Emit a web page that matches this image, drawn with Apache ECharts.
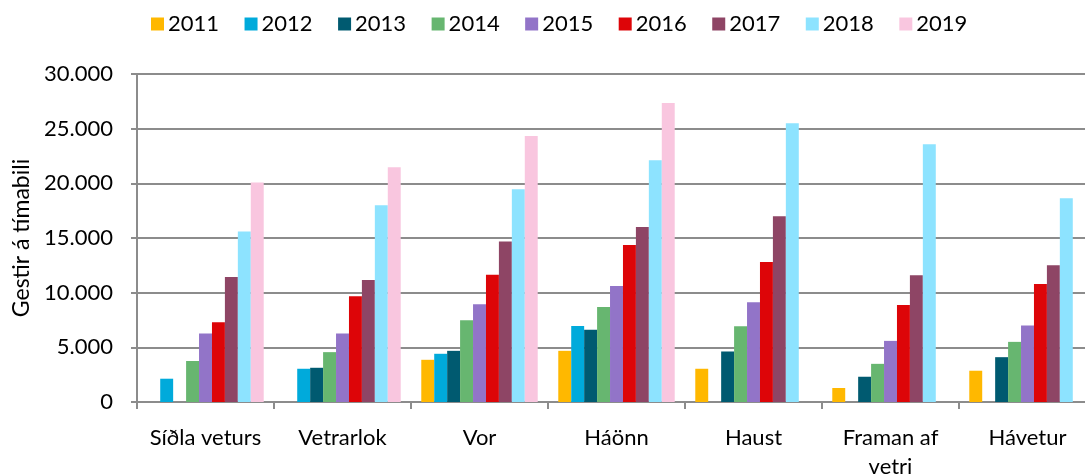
<!DOCTYPE html>
<html>
	<head>
		<meta charset="utf-8">
		<title></title>
		<script src="https://cdn.jsdelivr.net/npm/echarts@6/dist/echarts.min.js"></script>
		<style>
			html, body { margin: 0; padding: 0; background: #fff; }
		</style>
	</head>
	<body>
		<div id="main" style="width: 1085px; height: 474px;"></div>
		<script type="text/javascript">
			// flokkar (tímabil)
			var categories = ['Síðla veturs', 'Vetrarlok', 'Vor', 'Háönn', 'Haust', 'Framan af vetri', 'Hávetur']
			var years = ['2011', '2012', '2013', '2014', '2015', '2016', '2017', '2018', '2019']
			var colors = ['#FFB800', '#00AADB', '#005A70', '#67B670', '#9274C8', '#DD0508', '#8E4565', '#8DE3FF', '#F9C6DF']

			// gestir á tímabili, eitt fylki á ár
			var v2011 = [null, null, 3860, 4680, 3040, 1280, 2860]
			var v2012 = [2130, 3040, 4410, 6960, null, null, null]
			var v2013 = [null, 3130, 4680, 6600, 4620, 2310, 4100]
			var v2014 = [3750, 4560, 7480, 8700, 6930, 3490, 5500]
			var v2015 = [6260, 6260, 8940, 10610, 9120, 5590, 6990]
			var v2016 = [7300, 9670, 11640, 14350, 12800, 8880, 10800]
			var v2017 = [11430, 11160, 14690, 16000, 17000, 11590, 12500]
			var v2018 = [15600, 18000, 19460, 22100, 25500, 23570, 18640]
			var v2019 = [20070, 21470, 24330, 27340, null, null, null]
			var values = [v2011, v2012, v2013, v2014, v2015, v2016, v2017, v2018, v2019]

			var yTicks = [0, 5000, 10000, 15000, 20000, 25000, 30000]

			var font = 'Lato'

			var series = years.map(function (y, i) {
				return {
					name: y,
					type: 'bar',
					data: values[i],
					barGap: '0%',
					barCategoryGap: '15%',
					itemStyle: { color: colors[i] }
				}
			})

			var myCharts = echarts.init(document.getElementById("main"))
			var option = {
				animation: false,
				legend: {
					data: years,
					top: 8,
					left: 146,
					itemWidth: 13,
					itemHeight: 13,
					itemGap: 25.5,
					icon: 'rect',
					textStyle: { fontFamily: font, fontSize: 22, color: '#000', padding: [0, 0, 0, -1] }
				},
				grid: {
					left: 137,
					right: -11,
					top: 74,
					bottom: 72,
					containLabel: false,
					outerBoundsMode: 'none'
				},
				xAxis: {
					type: 'category',
					data: categories,
					axisLine: { lineStyle: { color: '#8c8c8c', width: 2 } },
					axisTick: { show: true, length: 7, alignWithLabel: false, lineStyle: { color: '#8c8c8c', width: 2 } },
					axisLabel: {
						interval: 0,
						margin: 21,
						fontFamily: font,
						fontSize: 22,
						color: '#000',
						lineHeight: 29,
						formatter: function (v) {
							return v === 'Framan af vetri' ? 'Framan af\nvetri' : v
						}
					}
				},
				yAxis: {
					type: 'value',
					min: yTicks[0],
					max: yTicks[yTicks.length - 1],
					interval: 5000,
					name: 'Gestir á tímabili',
					nameLocation: 'middle',
					nameGap: 100,
					nameTextStyle: { fontFamily: font, fontSize: 23, color: '#000' },
					axisLine: { show: true, lineStyle: { color: '#8c8c8c', width: 2 } },
					axisTick: { show: true, length: 6, lineStyle: { color: '#8c8c8c', width: 2 } },
					splitLine: { lineStyle: { color: '#8c8c8c', width: 2 } },
					axisLabel: {
						margin: 24,
						fontFamily: font,
						fontSize: 22,
						color: '#000',
						formatter: function (v) {
							return String(v).replace(/\B(?=(\d{3})+(?!\d))/g, '.')
						}
					}
				},
				series: series
			}
			myCharts.setOption(option)
		</script>
	</body>
</html>
